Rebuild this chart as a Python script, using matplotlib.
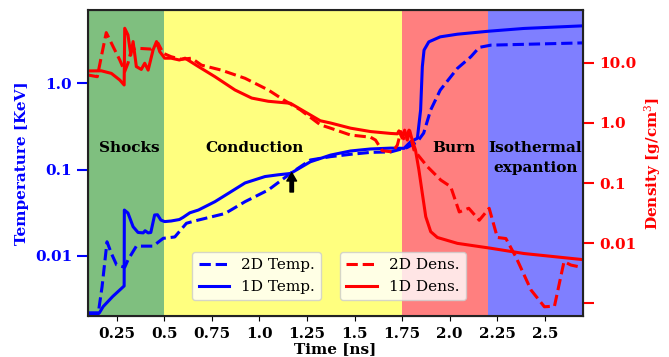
import matplotlib
matplotlib.use("Agg")
import matplotlib.pyplot as plt
from matplotlib.ticker import NullLocator, FixedLocator, FixedFormatter

plt.rcParams['font.family'] = ['DejaVu Serif']
plt.rcParams['mathtext.fontset'] = 'dejavuserif'
plt.rcParams['font.size'] = 11

# 1D temperature [keV]
t1_time = [0.10, 0.16, 0.18, 0.23, 0.29, 0.291, 0.31, 0.337, 0.363, 0.39, 0.40,
           0.416, 0.43, 0.45, 0.465, 0.483, 0.503, 0.537, 0.58, 0.60, 0.635, 0.68,
           0.767, 0.837, 0.925, 1.03, 1.10, 1.163, 1.268, 1.374, 1.479, 1.584,
           1.69, 1.76, 1.795, 1.83, 1.847, 1.856, 1.865, 1.89, 1.95, 2.04, 2.207,
           2.39, 2.70]
t1_temp = [0.0022, 0.0022, 0.0026, 0.0034, 0.0045, 0.034, 0.0314, 0.0218, 0.0187,
           0.0185, 0.0196, 0.0185, 0.0187, 0.0298, 0.030, 0.026, 0.025, 0.0254,
           0.0264, 0.028, 0.0316, 0.034, 0.0425, 0.053, 0.070, 0.083, 0.087, 0.090,
           0.123, 0.147, 0.164, 0.173, 0.177, 0.176, 0.21, 0.23, 0.49, 1.55, 2.41,
           3.0, 3.43, 3.68, 3.99, 4.29, 4.6]

# 2D temperature [keV]
t2_time = [0.10, 0.153, 0.174, 0.20, 0.223, 0.25, 0.293, 0.31, 0.354, 0.442,
           0.495, 0.556, 0.617, 0.66, 0.82, 0.925, 1.047, 1.163, 1.268, 1.374,
           1.479, 1.584, 1.69, 1.777, 1.83, 1.863, 1.90, 1.95, 2.04, 2.11, 2.155,
           2.216, 2.70]
t2_temp = [0.0021, 0.0021, 0.0044, 0.0146, 0.0107, 0.0079, 0.0074, 0.009, 0.013,
           0.013, 0.016, 0.0166, 0.0239, 0.0254, 0.031, 0.0425, 0.058, 0.090,
           0.129, 0.141, 0.150, 0.158, 0.160, 0.180, 0.21, 0.264, 0.49, 0.83,
           1.48, 2.01, 2.59, 2.75, 2.92]

# 1D density [g/cm^3]
d1_time = [0.10, 0.17, 0.223, 0.267, 0.29, 0.293, 0.31, 0.325, 0.337, 0.354, 0.38,
           0.398, 0.416, 0.442, 0.46, 0.477, 0.503, 0.537, 0.58, 0.61, 0.68, 0.767,
           0.872, 0.96, 1.047, 1.163, 1.268, 1.32, 1.374, 1.479, 1.584, 1.69,
           1.725, 1.733, 1.75, 1.763, 1.777, 1.79, 1.80, 1.82, 1.838, 1.856, 1.874,
           1.90, 1.935, 2.04, 2.216, 2.39, 2.70]
d1_dens = [7.36, 7.4, 6.7, 5.2, 4.3, 37.8, 29.3, 13.6, 22.7, 8.7, 7.8, 9.9, 7.6,
           16.5, 22.7, 15.4, 12.0, 12.0, 11.2, 12.0, 8.7, 5.9, 3.55, 2.6, 2.3,
           2.13, 1.36, 1.09, 1.0, 0.82, 0.72, 0.67, 0.66, 0.74, 0.56, 0.76, 0.52,
           0.74, 0.56, 0.355, 0.165, 0.067, 0.0275, 0.0155, 0.0124, 0.0099, 0.0082,
           0.0067, 0.0053]

# 2D density [g/cm^3]
d2_time = [0.10, 0.149, 0.17, 0.196, 0.232, 0.267, 0.293, 0.31, 0.328, 0.354,
           0.433, 0.468, 0.495, 0.537, 0.59, 0.644, 0.696, 0.80, 0.925, 1.047,
           1.128, 1.216, 1.321, 1.374, 1.479, 1.584, 1.61, 1.646, 1.70, 1.725,
           1.743, 1.763, 1.786, 1.812, 1.883, 1.953, 2.005, 2.05, 2.10, 2.155,
           2.207, 2.25, 2.295, 2.347, 2.427, 2.497, 2.55, 2.60, 2.637, 2.70]
d2_dens = [6.3, 5.9, 12.7, 32.0, 18.7, 11.2, 7.2, 9.9, 16.5, 17.6, 17.0, 21.3,
           14.5, 12.7, 11.5, 12.0, 9.2, 7.6, 5.55, 3.55, 2.42, 1.65, 0.93, 0.82,
           0.63, 0.58, 0.52, 0.345, 0.33, 0.43, 0.72, 0.52, 0.76, 0.355, 0.187,
           0.112, 0.087, 0.033, 0.038, 0.024, 0.038, 0.0124, 0.0119, 0.0059,
           0.00165, 0.00087, 0.00089, 0.0049, 0.0043, 0.0039]

# Phase boundaries [ns] and their labels
phase_edges = [0.1, 0.5, 1.75, 2.2, 2.7]
phase_colors = ['green', 'yellow', 'red', 'blue']
phase_names = ['Shocks', 'Conduction', 'Burn', 'Isothermal']
phase_label_x = [0.318, 0.976, 2.02, 2.45]

temp_ticks = [0.01, 0.1, 1.0]
temp_ticklabels = ['0.01', '0.1', '1.0']
dens_ticks = [0.001, 0.01, 0.1, 1.0, 10.0]
dens_ticklabels = ['', '0.01', '0.1', '1.0', '10.0']
time_ticks = [0.25, 0.5, 0.75, 1.0, 1.25, 1.5, 1.75, 2.0, 2.25, 2.5]
time_ticklabels = ['0.25', '0.5', '0.75', '1.0', '1.25', '1.5', '1.75', '2.0', '2.25', '2.5']

fig = plt.figure(figsize=(6.69, 3.57), dpi=100)
ax = fig.add_axes([0.1315, 0.1148, 0.740, 0.857])
ax2 = ax.twinx()

for i, c in enumerate(phase_colors):
    ax.axvspan(phase_edges[i], phase_edges[i + 1], color=c, alpha=0.5, lw=0, zorder=0)

l_t2, = ax.plot(t2_time, t2_temp, color='blue', ls='--', lw=2.2, label='2D Temp.')
l_t1, = ax.plot(t1_time, t1_temp, color='blue', ls='-', lw=2.2, label='1D Temp.')
l_d2, = ax2.plot(d2_time, d2_dens, color='red', ls='--', lw=2.2, label='2D Dens.')
l_d1, = ax2.plot(d1_time, d1_dens, color='red', ls='-', lw=2.2, label='1D Dens.')

ax.set_yscale('log')
ax2.set_yscale('log')
ax.set_xlim(0.1, 2.7)
ax.set_ylim(0.00202, 7.0)
ax2.set_ylim(0.00061, 76)

ax.yaxis.set_major_locator(FixedLocator(temp_ticks))
ax.yaxis.set_major_formatter(FixedFormatter(temp_ticklabels))
ax.yaxis.set_minor_locator(NullLocator())
ax2.yaxis.set_major_locator(FixedLocator(dens_ticks))
ax2.yaxis.set_major_formatter(FixedFormatter(dens_ticklabels))
ax2.yaxis.set_minor_locator(NullLocator())
ax.set_xticks(time_ticks)
ax.set_xticklabels(time_ticklabels)

for lab in ax.get_xticklabels():
    lab.set_fontweight('bold')
for lab in ax.get_yticklabels():
    lab.set_fontweight('bold')
for lab in ax2.get_yticklabels():
    lab.set_fontweight('bold')

ax.tick_params(axis='y', colors='blue', length=8, width=1.5)
ax2.tick_params(axis='y', colors='red', length=8, width=1.5)
ax.tick_params(axis='x', length=3.5, width=0.8, pad=4.5)

ax.set_xlabel('Time [ns]', fontweight='bold', labelpad=1)
ax.set_ylabel('Temperature [KeV]', color='blue', fontweight='bold')
ax2.set_ylabel('Density [g/cm$^3$]', color='red', fontweight='bold')

for sp in ax2.spines.values():
    sp.set_linewidth(1.5)
    sp.set_color('#222222')

for name, x in zip(phase_names, phase_label_x):
    ax.text(x, 0.177, name, ha='center', va='center', fontweight='bold',
            fontsize=11, zorder=5)
ax.text(phase_label_x[3], 0.104, 'expantion', ha='center', va='center',
        fontweight='bold', fontsize=11, zorder=5)

ax.annotate('', xy=(1.17, 0.092), xytext=(1.17, 0.055),
            arrowprops=dict(facecolor='black', edgecolor='black', width=2.5,
                            headwidth=7, headlength=6, shrink=0))

leg1 = ax2.legend(handles=[l_t2, l_t1], loc='lower center',
                  bbox_to_anchor=(0.341, 0.052), borderaxespad=0, fontsize=11)
ax2.add_artist(leg1)
ax2.legend(handles=[l_d2, l_d1], loc='lower center',
           bbox_to_anchor=(0.636, 0.052), borderaxespad=0, fontsize=11)

fig.savefig('out.png', dpi=100)
